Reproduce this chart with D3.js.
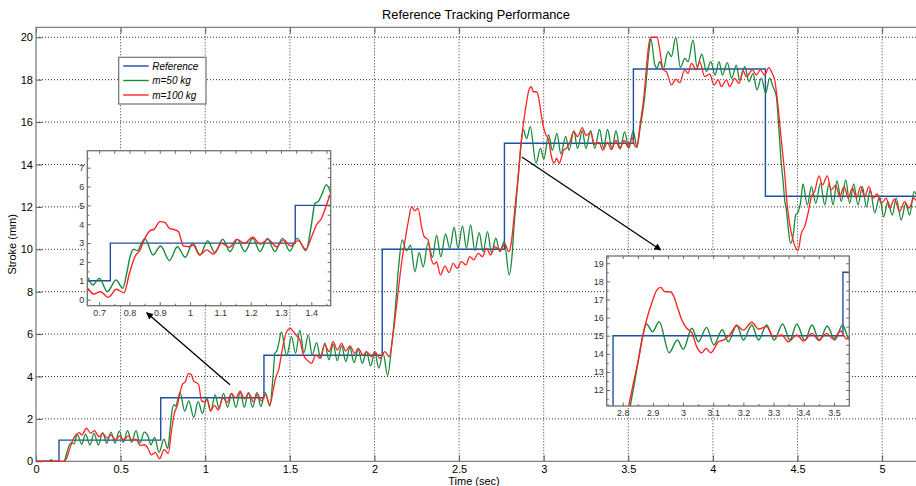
<!DOCTYPE html>
<html>
<head>
<meta charset="utf-8">
<script src="https://cdnjs.cloudflare.com/ajax/libs/d3/7.8.5/d3.min.js"></script>
<style>
body { margin: 0; background: #fff; }
text { font-family: "Liberation Sans", Arial, sans-serif; }
</style>
</head>
<body>
<div id="chart-root"></div>
<script>
// ---- data ----
var seriesNames = ["Reference", "m=50 kg", "m=100 kg"];

// reference step command (stroke held from each time on)
var refTime   = [0, 0.136, 0.737, 1.347, 2.046, 2.768, 3.530, 4.310, 5.2];
var refStroke = [0, 1, 3, 5, 10, 15, 18.5, 12.5, 12.5];

// response, m = 50 kg  [time (s), stroke (mm)]
var m50 = [[0,0],[0.08,0],[0.09,0.08],[0.1,0],[0.165,0],[0.181,0.38],[0.197,0.77],[0.21,0.88],[0.224,0.82],
  [0.244,1.27],[0.27,0.8],[0.293,1.28],[0.319,0.77],[0.343,1.32],[0.368,0.77],[0.394,1.35],[0.418,0.85],
  [0.443,1.38],[0.467,0.86],[0.492,1.42],[0.516,0.9],[0.541,1.45],[0.565,0.9],[0.591,1.45],[0.614,0.86],
  [0.64,1.38],[0.661,1.2],[0.679,0.78],[0.701,1.13],[0.727,0.42],[0.756,1.04],[0.778,0.6],[0.791,1.4],
  [0.802,2.28],[0.815,2.67],[0.826,2.6],[0.84,2.99],[0.851,3.25],[0.878,2.37],[0.903,2.85],[0.932,2.07],
  [0.958,2.81],[0.984,2.25],[1.009,2.99],[1.033,2.37],[1.058,3.13],[1.082,2.49],[1.108,3.2],[1.132,2.55],
  [1.156,3.2],[1.181,2.55],[1.207,3.25],[1.231,2.55],[1.255,3.25],[1.28,2.55],[1.305,3.25],[1.329,2.58],
  [1.354,3.25],[1.382,2.6],[1.401,4.05],[1.412,5.11],[1.423,5.2],[1.434,5.55],[1.45,6.1],[1.481,4.97],
  [1.51,5.88],[1.534,5.09],[1.559,6.19],[1.583,5.12],[1.609,5.96],[1.632,5.02],[1.658,5.6],[1.682,4.86],
  [1.707,5.57],[1.731,4.78],[1.756,5.52],[1.78,4.75],[1.806,5.44],[1.831,4.7],[1.855,5.38],[1.879,4.65],
  [1.904,5.28],[1.928,4.62],[1.953,5.17],[1.977,4.5],[2.002,5.13],[2.026,4.39],[2.051,5.1],[2.078,4.05],
  [2.101,5.41],[2.121,6.98],[2.141,9.02],[2.164,10.44],[2.189,9.93],[2.213,10.19],[2.239,8.94],[2.264,9.84],
  [2.288,9.17],[2.317,10.31],[2.343,9.62],[2.367,10.67],[2.392,9.65],[2.42,10.72],[2.445,10.05],[2.471,11.04],
  [2.494,10.05],[2.52,11.1],[2.544,10.05],[2.568,11.15],[2.593,9.94],[2.619,10.79],[2.642,9.89],[2.668,10.83],
  [2.692,9.82],[2.717,10.52],[2.741,9.89],[2.767,10.37],[2.796,8.79],[2.812,9.6],[2.825,11.1],[2.839,12.4],
  [2.852,13.66],[2.866,14.95],[2.879,15.65],[2.899,15.22],[2.921,15.78],[2.954,14.06],[2.981,14.76],
  [3.001,14.25],[3.029,15.41],[3.051,14.67],[3.078,15.46],[3.102,14.49],[3.13,15.33],[3.15,14.67],
  [3.178,15.59],[3.2,14.76],[3.228,15.59],[3.25,14.76],[3.277,15.59],[3.302,14.76],[3.33,15.65],[3.354,14.76],
  [3.377,15.65],[3.404,14.73],[3.427,15.59],[3.452,14.73],[3.478,15.54],[3.503,14.76],[3.529,15.59],
  [3.551,14.8],[3.568,15.63],[3.597,17.2],[3.623,19.4],[3.633,19.95],[3.657,18.69],[3.67,18.54],[3.686,18.85],
  [3.706,18.49],[3.735,19.32],[3.755,19.09],[3.78,20.0],[3.808,18.58],[3.834,19.0],[3.853,18.85],[3.883,19.87],
  [3.906,18.6],[3.934,19.2],[3.962,18.38],[3.987,18.85],[4.013,18.22],[4.036,18.85],[4.056,18.22],[4.085,18.8],
  [4.111,18.06],[4.138,18.69],[4.158,17.98],[4.189,18.61],[4.213,17.91],[4.237,18.3],[4.26,17.52],[4.286,18.07],
  [4.312,17.36],[4.335,18.07],[4.355,17.67],[4.375,17.2],[4.39,15.63],[4.404,14.06],[4.414,13.27],[4.424,12.33],
  [4.434,11.86],[4.444,11.07],[4.458,10.28],[4.473,10.6],[4.489,11.62],[4.503,11.75],[4.517,12.16],[4.532,13.08],
  [4.558,12.09],[4.582,12.96],[4.608,12.17],[4.635,13.11],[4.661,12.09],[4.686,13.11],[4.71,12.09],[4.733,13.24],
  [4.759,12.25],[4.785,13.27],[4.808,12.17],[4.832,13.08],[4.857,12.09],[4.883,12.96],[4.907,12.0],[4.93,12.8],
  [4.956,11.72],[4.985,12.49],[5.009,11.53],[5.034,12.25],[5.06,11.61],[5.083,12.41],[5.113,11.38],[5.139,12.17],
  [5.162,11.61],[5.188,12.72],[5.2,12.6]];

// response, m = 100 kg
var m100 = [[0,0],[0.165,0],[0.181,0.15],[0.2,0.61],[0.22,1.04],[0.236,1.24],[0.256,1.35],[0.27,1.24],
  [0.299,1.56],[0.323,1.32],[0.345,1.45],[0.372,1.16],[0.394,1.32],[0.421,1.09],[0.443,1.24],[0.471,1.01],
  [0.492,1.2],[0.52,1.01],[0.545,1.2],[0.568,0.98],[0.59,1.05],[0.615,0.75],[0.64,0.78],[0.661,0.62],
  [0.681,0.3],[0.705,0.42],[0.73,0.12],[0.757,0.55],[0.782,0.37],[0.8,1.4],[0.818,2.28],[0.835,2.63],
  [0.851,3.25],[0.868,3.66],[0.881,3.73],[0.901,4.14],[0.918,4.08],[0.932,3.78],[0.951,3.7],[0.962,3.6],
  [0.978,2.85],[0.995,2.81],[1.011,2.9],[1.031,2.37],[1.055,2.64],[1.077,2.42],[1.104,2.99],[1.13,2.78],
  [1.154,3.2],[1.18,2.99],[1.207,3.31],[1.231,2.95],[1.258,3.2],[1.285,2.81],[1.309,3.17],[1.332,2.85],
  [1.357,3.13],[1.382,2.67],[1.401,3.34],[1.417,3.96],[1.434,4.32],[1.45,5.02],[1.464,5.64],[1.48,6.1],
  [1.504,6.27],[1.52,6.12],[1.545,5.88],[1.559,5.72],[1.579,5.05],[1.605,4.75],[1.628,4.62],[1.654,5.01],
  [1.677,4.86],[1.706,5.49],[1.732,5.17],[1.756,5.64],[1.78,5.25],[1.806,5.56],[1.83,5.2],[1.855,5.44],
  [1.884,5.09],[1.904,5.33],[1.933,5.01],[1.953,5.17],[1.983,4.94],[2.002,5.17],[2.032,4.86],[2.061,5.17],
  [2.087,4.94],[2.111,6.04],[2.13,7.3],[2.16,9.34],[2.18,10.37],[2.205,11.53],[2.219,12.01],[2.238,11.82],
  [2.258,11.93],[2.278,11.07],[2.294,10.6],[2.317,10.44],[2.337,9.5],[2.352,9.3],[2.367,9.4],[2.39,8.79],
  [2.416,9.21],[2.441,8.9],[2.465,9.34],[2.489,9.1],[2.514,9.42],[2.54,9.26],[2.563,9.65],[2.587,9.5],
  [2.613,9.81],[2.638,9.65],[2.662,10.05],[2.686,9.73],[2.711,10.13],[2.741,9.94],[2.77,10.25],[2.794,9.89],
  [2.81,10.4],[2.822,11.3],[2.837,12.5],[2.852,13.66],[2.866,14.95],[2.879,15.87],[2.896,16.79],[2.913,17.52],
  [2.926,17.67],[2.94,17.43],[2.957,17.43],[2.97,17.15],[2.981,16.6],[2.996,15.87],[3.012,15.41],[3.029,15.17],
  [3.045,14.4],[3.062,14.06],[3.076,14.3],[3.092,14.06],[3.106,14.36],[3.117,14.67],[3.134,14.76],[3.154,15.04],
  [3.178,15.55],[3.2,15.31],[3.228,15.74],[3.25,15.37],[3.277,15.5],[3.299,14.95],[3.327,15.04],[3.349,14.67],
  [3.377,15.04],[3.4,14.71],[3.427,15.13],[3.449,14.76],[3.476,15.13],[3.498,14.82],[3.522,15.26],[3.542,14.82],
  [3.555,15.0],[3.568,15.78],[3.592,17.2],[3.617,19.4],[3.631,20.0],[3.67,20.0],[3.686,19.4],[3.706,18.46],
  [3.725,18.38],[3.755,17.75],[3.78,18.02],[3.804,17.86],[3.833,18.46],[3.853,18.3],[3.873,18.77],[3.902,18.46],
  [3.922,18.85],[3.951,18.14],[3.981,18.26],[4.007,17.75],[4.031,17.99],[4.05,17.67],[4.08,17.99],[4.099,17.67],
  [4.129,18.06],[4.154,17.83],[4.178,18.42],[4.198,18.14],[4.233,18.46],[4.257,18.22],[4.28,18.46],[4.306,18.22],
  [4.33,18.57],[4.35,18.3],[4.365,17.99],[4.385,16.73],[4.404,15.16],[4.424,13.58],[4.438,12.17],[4.453,11.22],
  [4.473,10.44],[4.503,9.94],[4.522,10.75],[4.542,11.07],[4.562,11.7],[4.582,12.49],[4.601,12.72],[4.627,13.46],
  [4.647,13.03],[4.676,13.46],[4.699,12.8],[4.725,13.03],[4.749,12.49],[4.775,12.96],[4.799,12.41],[4.824,12.88],
  [4.848,12.41],[4.873,12.96],[4.897,12.49],[4.922,12.96],[4.946,12.41],[4.971,12.61],[4.995,12.17],[5.024,12.41],
  [5.044,11.94],[5.073,12.36],[5.103,11.78],[5.133,12.25],[5.159,11.94],[5.188,12.41],[5.2,12.3]];

var xTicks = [0, 0.5, 1, 1.5, 2, 2.5, 3, 3.5, 4, 4.5, 5];
var yTicks = [0, 2, 4, 6, 8, 10, 12, 14, 16, 18, 20];
var zoom1XTicks = [0.7, 0.8, 0.9, 1, 1.1, 1.2, 1.3, 1.4];
var zoom1YTicks = [0, 1, 2, 3, 4, 5, 6, 7];
var zoom2XTicks = [2.8, 2.9, 3, 3.1, 3.2, 3.3, 3.4, 3.5];
var zoom2YTicks = [12, 13, 14, 15, 16, 17, 18, 19];

// arrows pointing from the curve to each zoom box, [time, stroke]
var arrowFrom = [[1.146, 3.61], [2.871, 14.35]];
var arrowTo   = [[0.654, 7.01], [3.692, 9.97]];

// ---- drawing ----
var colors = ["#1f4fa3", "#198a3c", "#ff2424"];
var W = 916, H = 486;

var svg = d3.select("#chart-root")
    .append("svg")
    .attr("width", W)
    .attr("height", H);

var defs = svg.append("defs");
defs.append("marker")
    .attr("id", "arrowhead")
    .attr("viewBox", "0 0 10 10")
    .attr("refX", 9).attr("refY", 5)
    .attr("markerWidth", 7).attr("markerHeight", 7)
    .attr("markerUnits", "userSpaceOnUse")
    .attr("orient", "auto")
    .append("path")
    .attr("d", "M0,0 L10,5 L0,10 z")
    .attr("fill", "#000");

var plotLeft = 36, plotTop = 27.3, plotBottom = 461.3;
var x = d3.scaleLinear().domain([0, 5.2]).range([plotLeft, W]);
var y = d3.scaleLinear().domain([0, 20.47]).range([plotBottom, plotTop]);

var refData = refTime.map(function (t, i) { return [t, refStroke[i]]; });
var allSeries = [refData, m50, m100];

// title
svg.append("text")
    .attr("x", 476).attr("y", 19)
    .attr("text-anchor", "middle")
    .style("font-size", "12.8px")
    .text("Reference Tracking Performance");

// grid
svg.append("g").selectAll("line")
    .data(xTicks.slice(1))
    .enter().append("line")
    .attr("x1", function (d) { return x(d); }).attr("x2", function (d) { return x(d); })
    .attr("y1", plotTop).attr("y2", plotBottom)
    .attr("stroke", "#333").attr("stroke-width", 1)
    .attr("stroke-dasharray", "1,2");
svg.append("g").selectAll("line")
    .data(yTicks.slice(1))
    .enter().append("line")
    .attr("x1", plotLeft).attr("x2", W)
    .attr("y1", function (d) { return y(d); }).attr("y2", function (d) { return y(d); })
    .attr("stroke", "#333").attr("stroke-width", 1)
    .attr("stroke-dasharray", "1,2");

// axes (MATLAB style: ticks pointing inward)
function styleAxis(g, size) {
    g.select(".domain").remove();
    g.selectAll(".tick line").attr("stroke", "#555");
    g.selectAll(".tick text").attr("fill", "#000").style("font-size", size)
        .style("font-family", "'Liberation Sans', Arial, sans-serif");
}
svg.append("g")
    .attr("transform", "translate(0," + plotBottom + ")")
    .call(d3.axisBottom(x).tickValues(xTicks).tickSize(-6).tickPadding(4).tickFormat(function (d) { return String(d); }))
    .call(styleAxis, "11px");
svg.append("g")
    .attr("transform", "translate(0," + plotTop + ")")
    .call(d3.axisTop(x).tickValues(xTicks).tickSize(-6).tickFormat(""))
    .call(styleAxis, "11px");
svg.append("g")
    .attr("transform", "translate(" + plotLeft + ",0)")
    .call(d3.axisLeft(y).tickValues(yTicks).tickSize(-6).tickPadding(3))
    .call(styleAxis, "11px");

// frame
svg.append("path")
    .attr("d", "M" + W + "," + plotTop + "H" + plotLeft + "V" + plotBottom + "H" + W)
    .attr("fill", "none").attr("stroke", "#808080").attr("stroke-width", 1.3);

// axis labels
svg.append("text")
    .attr("x", 474).attr("y", 485)
    .attr("text-anchor", "middle")
    .style("font-size", "11px")
    .text("Time (sec)");
svg.append("text")
    .attr("transform", "translate(16," + ((plotTop + plotBottom) / 2) + ") rotate(-90)")
    .attr("text-anchor", "middle")
    .style("font-size", "11px")
    .text("Stroke (mm)");

// main curves
function makeLine(xs, ys, curve) {
    return d3.line()
        .x(function (d) { return xs(d[0]); })
        .y(function (d) { return ys(d[1]); })
        .curve(curve);
}
svg.append("g").selectAll("path")
    .data(allSeries)
    .enter().append("path")
    .attr("d", function (d, i) { return makeLine(x, y, i === 0 ? d3.curveStepAfter : d3.curveMonotoneX)(d); })
    .attr("fill", "none")
    .attr("stroke", function (d, i) { return colors[i]; })
    .attr("stroke-width", function (d, i) { return i === 0 ? 1.4 : 1.3; });

// arrows
svg.append("g").selectAll("line")
    .data(arrowFrom)
    .enter().append("line")
    .attr("x1", function (d) { return x(d[0]); })
    .attr("y1", function (d) { return y(d[1]); })
    .attr("x2", function (d, i) { return x(arrowTo[i][0]); })
    .attr("y2", function (d, i) { return y(arrowTo[i][1]); })
    .attr("stroke", "#000").attr("stroke-width", 1.3)
    .attr("marker-end", "url(#arrowhead)");

// zoomed insets
function drawInset(id, box, xDomain, yDomain, xt, yt, xMinor, yMinor) {
    var ix = d3.scaleLinear().domain(xDomain).range([box.left, box.right]);
    var iy = d3.scaleLinear().domain(yDomain).range([box.bottom, box.top]);
    var g = svg.append("g");

    g.append("rect")
        .attr("x", box.left).attr("y", box.top)
        .attr("width", box.right - box.left).attr("height", box.bottom - box.top)
        .attr("fill", "#fff");

    defs.append("clipPath").attr("id", id)
        .append("rect")
        .attr("x", box.left).attr("y", box.top)
        .attr("width", box.right - box.left).attr("height", box.bottom - box.top);

    g.append("g").attr("clip-path", "url(#" + id + ")")
        .selectAll("path")
        .data(allSeries)
        .enter().append("path")
        .attr("d", function (d, i) { return makeLine(ix, iy, i === 0 ? d3.curveStepAfter : d3.curveMonotoneX)(d); })
        .attr("fill", "none")
        .attr("stroke", function (d, i) { return colors[i]; })
        .attr("stroke-width", 1.4);

    function tickStyle(sel) {
        sel.select(".domain").remove();
        sel.selectAll(".tick line").attr("stroke", "#666");
        sel.selectAll(".tick text").attr("fill", "#333").style("font-size", "9px")
            .style("font-family", "'Liberation Sans', Arial, sans-serif");
    }
    var fmt = function (d) { return String(+d.toFixed(2)); };
    g.append("g").attr("transform", "translate(0," + box.bottom + ")")
        .call(d3.axisBottom(ix).tickValues(xt).tickSize(-3.5).tickPadding(4).tickFormat(fmt)).call(tickStyle);
    g.append("g").attr("transform", "translate(0," + box.bottom + ")")
        .call(d3.axisBottom(ix).tickValues(xMinor).tickSize(-2).tickFormat("")).call(tickStyle);
    g.append("g").attr("transform", "translate(0," + box.top + ")")
        .call(d3.axisTop(ix).tickValues(xt.concat(xMinor)).tickSize(-3).tickFormat("")).call(tickStyle);
    g.append("g").attr("transform", "translate(" + box.left + ",0)")
        .call(d3.axisLeft(iy).tickValues(yt).tickSize(-3.5).tickPadding(3).tickFormat(fmt)).call(tickStyle);
    g.append("g").attr("transform", "translate(" + box.left + ",0)")
        .call(d3.axisLeft(iy).tickValues(yMinor).tickSize(-2).tickFormat("")).call(tickStyle);
    g.append("g").attr("transform", "translate(" + box.right + ",0)")
        .call(d3.axisRight(iy).tickValues(yt.concat(yMinor)).tickSize(-3).tickFormat("")).call(tickStyle);

    g.append("rect")
        .attr("x", box.left).attr("y", box.top)
        .attr("width", box.right - box.left).attr("height", box.bottom - box.top)
        .attr("fill", "none").attr("stroke", "#707070").attr("stroke-width", 1.3);
}

function halves(ticks, step) {
    return ticks.map(function (d) { return d + step / 2; });
}

drawInset("clip-zoom1", { left: 87.3, right: 330.7, top: 150.7, bottom: 305.7 },
    [0.661, 1.464], [-0.32, 7.9], zoom1XTicks, zoom1YTicks,
    halves(zoom1XTicks, 0.1).concat([0.65 + 0.0]).filter(function (d) { return d > 0.661 && d < 1.464; }),
    halves(zoom1YTicks, 1).concat([-0.5]).filter(function (d) { return d > -0.32 && d < 7.9; }));

drawInset("clip-zoom2", { left: 606.7, right: 849.3, top: 256, bottom: 406 },
    [2.747, 3.551], [11.12, 19.4], zoom2XTicks, zoom2YTicks,
    halves(zoom2XTicks, 0.1).concat([2.75]).filter(function (d) { return d > 2.747 && d < 3.551; }),
    halves(zoom2YTicks, 1).concat([11.5]).filter(function (d) { return d > 11.12 && d < 19.4; }));

// legend
var legend = svg.append("g").attr("transform", "translate(118.7,57.3)");
legend.append("rect")
    .attr("width", 87.3).attr("height", 46.7)
    .attr("fill", "#fff").attr("stroke", "#707070").attr("stroke-width", 1.2);
var item = legend.selectAll("g.item")
    .data(seriesNames)
    .enter().append("g")
    .attr("class", "item")
    .attr("transform", function (d, i) { return "translate(0," + (8.7 + i * 14.5) + ")"; });
item.append("line")
    .attr("x1", 4.5).attr("x2", 30)
    .attr("stroke", function (d, i) { return colors[i]; })
    .attr("stroke-width", 1.4);
item.append("text")
    .attr("x", 33.5).attr("dy", "0.35em")
    .style("font-size", "10px").style("font-style", "italic")
    .text(function (d) { return d; });
</script>
</body>
</html>
